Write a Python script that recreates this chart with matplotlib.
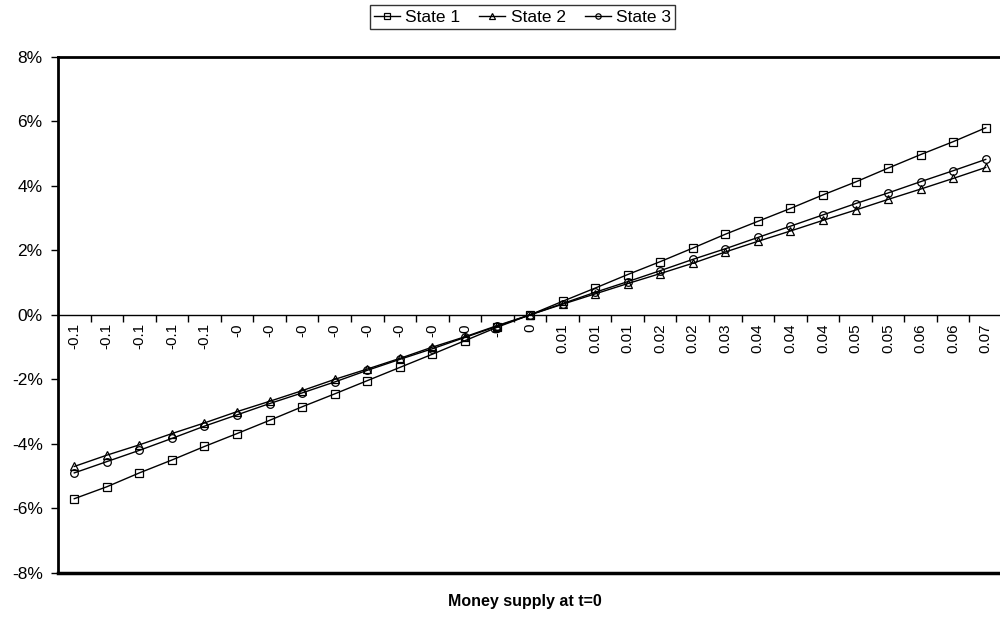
import matplotlib
matplotlib.use('Agg')
import matplotlib.pyplot as plt
import numpy as np
from matplotlib.ticker import FuncFormatter

plt.rcParams['font.family'] = ['Liberation Sans', 'DejaVu Sans']

labels = ['-0.1'] * 5 + ['-0'] * 9 + ['0'] + ['0.01'] * 3 + ['0.02'] * 2 + ['0.03'] \
    + ['0.04'] * 3 + ['0.05'] * 2 + ['0.06'] * 2 + ['0.07']

state1 = [-5.70, -5.33, -4.90, -4.50, -4.08, -3.68, -3.27, -2.85, -2.45, -2.04, -1.63, -1.22, -0.80, -0.38, 0.0,
          0.42, 0.83, 1.25, 1.65, 2.07, 2.50, 2.90, 3.30, 3.72, 4.12, 4.55, 4.97, 5.37, 5.80]
state2 = [-4.70, -4.35, -4.03, -3.68, -3.35, -3.00, -2.68, -2.35, -2.00, -1.68, -1.35, -1.00, -0.68, -0.33, 0.0,
          0.33, 0.65, 0.97, 1.28, 1.60, 1.95, 2.28, 2.60, 2.93, 3.25, 3.58, 3.90, 4.23, 4.57]
state3 = [-4.90, -4.55, -4.20, -3.83, -3.45, -3.10, -2.75, -2.42, -2.08, -1.72, -1.38, -1.05, -0.70, -0.35, 0.0,
          0.35, 0.70, 1.03, 1.37, 1.72, 2.05, 2.40, 2.75, 3.10, 3.45, 3.78, 4.13, 4.47, 4.82]

x = np.arange(len(labels))

fig = plt.figure(figsize=(10, 6.18), dpi=100)
ax = fig.add_axes([0.058, 0.073, 0.944, 0.835])

ax.plot(x, np.array(state1) / 100, color='black', lw=1, marker='s', ms=5.5, mfc='none', mec='black', mew=0.9, label='State 1')
ax.plot(x, np.array(state2) / 100, color='black', lw=1, marker='^', ms=5.5, mfc='none', mec='black', mew=0.9, label='State 2')
ax.plot(x, np.array(state3) / 100, color='black', lw=1, marker='o', ms=5.5, mfc='none', mec='black', mew=0.9, label='State 3')

ax.set_xlim(-0.5, len(labels) - 0.5)
ax.set_ylim(-0.08, 0.08)
ax.set_yticks(np.arange(-0.08, 0.0801, 0.02))
ax.yaxis.set_major_formatter(FuncFormatter(lambda v, p: '%d%%' % round(v * 100)))
ax.tick_params(axis='y', direction='out', length=5, width=1, labelsize=12.5, pad=6)

# category axis crossing at zero
ax.spines['bottom'].set_position(('data', 0))
ax.spines['bottom'].set_linewidth(1)
ax.spines['right'].set_visible(False)
ax.spines['left'].set_linewidth(2)
ax.spines['top'].set_linewidth(2)
ax.axhline(-0.08, color='black', lw=2.5, clip_on=False)

ax.set_xticks(x)
ax.set_xticklabels(labels, rotation=90, fontsize=11)
ax.set_xticks(np.arange(0.5, len(labels) - 1, 1), minor=True)
ax.tick_params(axis='x', which='major', length=0, pad=6)
ax.tick_params(axis='x', which='minor', direction='out', length=5, width=1)

fig.text(0.525, 0.027, 'Money supply at t=0', ha='center', va='center', fontsize=11.5, fontweight='bold')

leg = ax.legend(loc='upper center', bbox_to_anchor=(0.492, 1.117), ncol=3, frameon=True, fancybox=False,
                edgecolor='black', fontsize=12.5, handlelength=1.5, handletextpad=0.3, columnspacing=1.1,
                borderpad=0.25, markerscale=0.7)
leg.get_frame().set_linewidth(1)

plt.savefig('out.png', dpi=100)
plt.close()
